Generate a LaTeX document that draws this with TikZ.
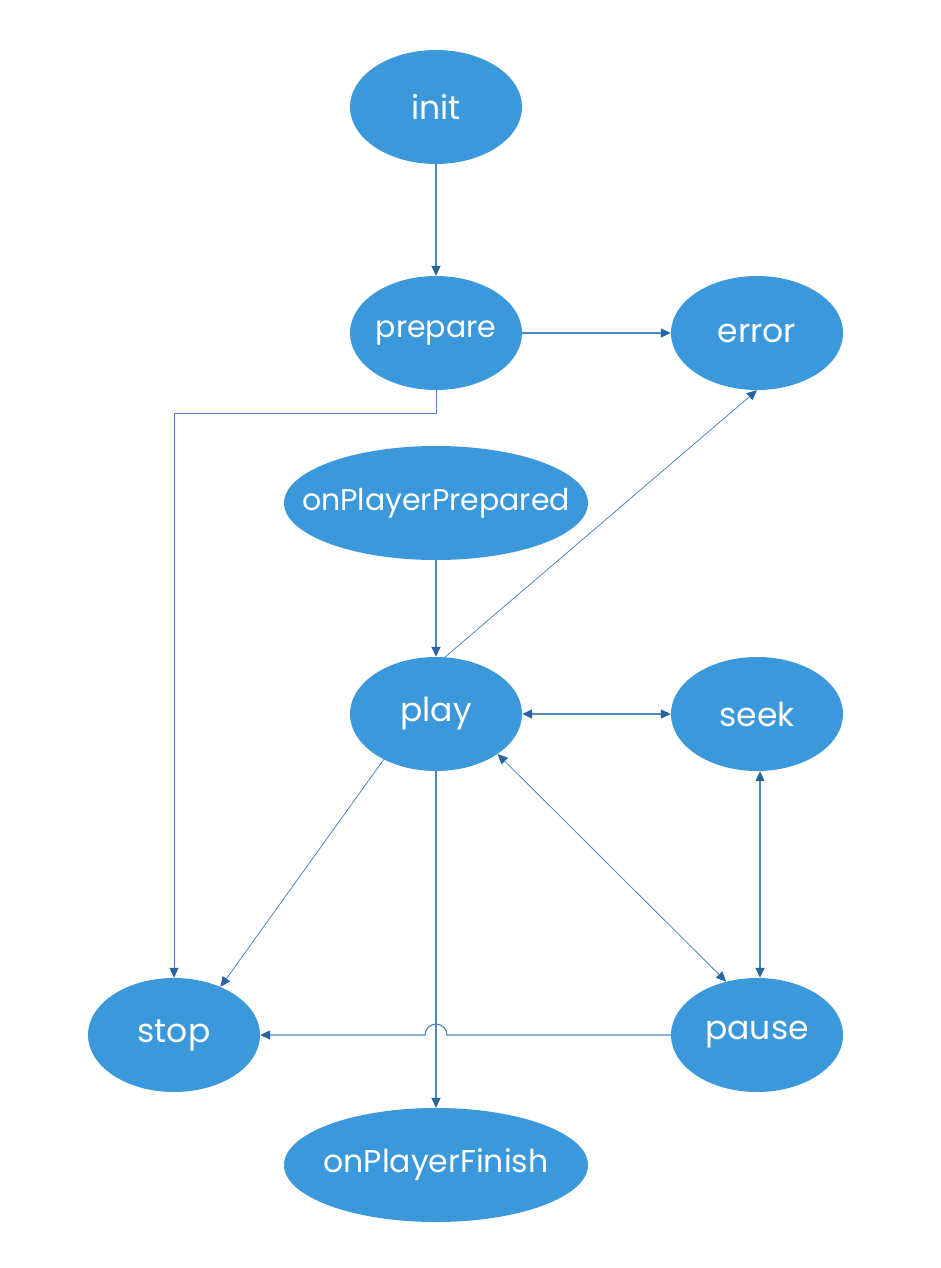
\documentclass[tikz,border=0pt]{standalone}
\usepackage{fontspec}
\setmainfont{Poppins}
\usetikzlibrary{arrows.meta,shapes.geometric,calc}
\definecolor{nodefill}{RGB}{58,152,219}
\definecolor{edgecol}{RGB}{78,135,192}
\definecolor{tipcol}{RGB}{40,100,160}
\begin{document}
\begin{tikzpicture}[x=1pt,y=-1pt,
  state/.style={ellipse,fill=nodefill,draw=none,minimum width=172pt,minimum height=114pt,inner sep=0pt,text=white,font=\fontsize{33}{36}\selectfont},
  widestate/.style={state,minimum width=304pt},
  smalltext/.style={font=\fontsize{30}{33}\selectfont},
  conn/.style={draw=edgecol,line width=1.2pt,-{Triangle[length=10pt,width=9pt,color=tipcol]}},
  dconn/.style={conn,{Triangle[length=10pt,width=9pt,color=tipcol]}-{Triangle[length=10pt,width=9pt,color=tipcol]}},
  thin conn/.style={conn,line width=0.8pt}]
\useasboundingbox (0,0) rectangle (940,1268);
\node[state] (init) at (436,107) {init};
\node[state,smalltext] (prepare) at (436,333) {prepare};
\node[state] (error) at (757,333) {error};
\node[widestate,smalltext] (opp) at (436,503) {\makebox[0pt]{onPlayerPrepared}};
\node[state] (play) at (436,714) {play};
\node[state] (seek) at (757,714) {seek};
\node[state] (stop) at (174,1035) {stop};
\node[state] (pause) at (757,1035) {pause};
\node[widestate,smalltext] (opf) at (436,1165) {\makebox[0pt]{\fontsize{31.5}{33}\selectfont onPlayerFinish}};
\coordinate (bend) at (436,413);
\coordinate (hop) at (play.south |- pause.west);

\draw[conn] (init.south) -- (prepare.north);
\draw[conn] (prepare.east) -- (error.west);
\draw[thin conn] (prepare.south) -- (bend) -| (stop.north);
\draw[conn] (opp.south) -- (play.north);
\draw[thin conn] (play.81) -- (error.south);
\draw[dconn] (play.east) -- (seek.west);
\draw[dconn] ([xshift=3pt]seek.south) -- ([xshift=3pt]pause.north);
\draw[thin conn,{Triangle[length=10pt,width=9pt,color=tipcol]}-{Triangle[length=10pt,width=9pt,color=tipcol]}] (pause.120) -- (play.327);
\draw[thin conn] (play.221) -- (stop.46);
\draw[conn] (play.south) -- (opf.north);
\draw[conn] (pause.west) -- ([xshift=11pt]hop) arc[start angle=0,end angle=180,radius=11pt] -- (stop.east);
\end{tikzpicture}
\end{document}
